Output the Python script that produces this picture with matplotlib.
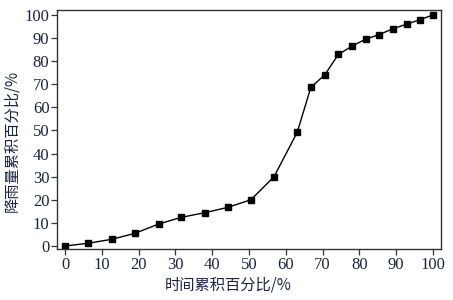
import matplotlib
matplotlib.use("Agg")
import matplotlib.pyplot as plt

# cumulative time % vs cumulative rainfall %
time_pct = [0, 6.3, 12.7, 19.0, 25.4, 31.6, 37.9, 44.2, 50.5, 56.8,
            63.1, 66.8, 70.6, 74.3, 78.0, 81.7, 85.4, 89.1, 92.9, 96.6, 100]
rain_pct = [0, 1.2, 2.9, 5.5, 9.5, 12.4, 14.4, 16.7, 20.0, 30.0,
            49.2, 68.6, 74.1, 82.9, 86.5, 89.5, 91.5, 94.0, 96.0, 98.0, 100]
xticks = list(range(0, 101, 10))
yticks = list(range(0, 101, 10))

txt_color = "#1a2440"
cjk = ["Noto Sans CJK SC", "DejaVu Sans"]
num = "Liberation Serif"

fig = plt.figure(figsize=(4.53, 3.0), dpi=100)
ax = fig.add_axes([0.126, 0.17, 0.8475, 0.798])

ax.plot(time_pct, rain_pct, color="black", lw=1.0, marker="s", ms=4.5,
        markerfacecolor="black", markeredgecolor="black")

ax.set_xlim(-2.2, 102.2)
ax.set_ylim(-1.3, 102.3)
ax.set_xticks(xticks)
ax.set_yticks(yticks)
ax.tick_params(direction="out", length=4, width=0.9, colors="#333333",
               labelcolor=txt_color, labelsize=12, pad=1.5)
for lab in ax.get_xticklabels() + ax.get_yticklabels():
    lab.set_fontfamily(num)

for s in ax.spines.values():
    s.set_linewidth(1.0)
    s.set_color("#333333")

ax.set_xlabel("时间累积百分比/%", family=cjk, fontsize=11, color=txt_color)
ax.set_ylabel("降雨量累积百分比/%", family=cjk, fontsize=11, color=txt_color)
ax.xaxis.set_label_coords(0.445, -0.115)
ax.yaxis.set_label_coords(-0.097, 0.45)

fig.savefig("out.png", dpi=100)
